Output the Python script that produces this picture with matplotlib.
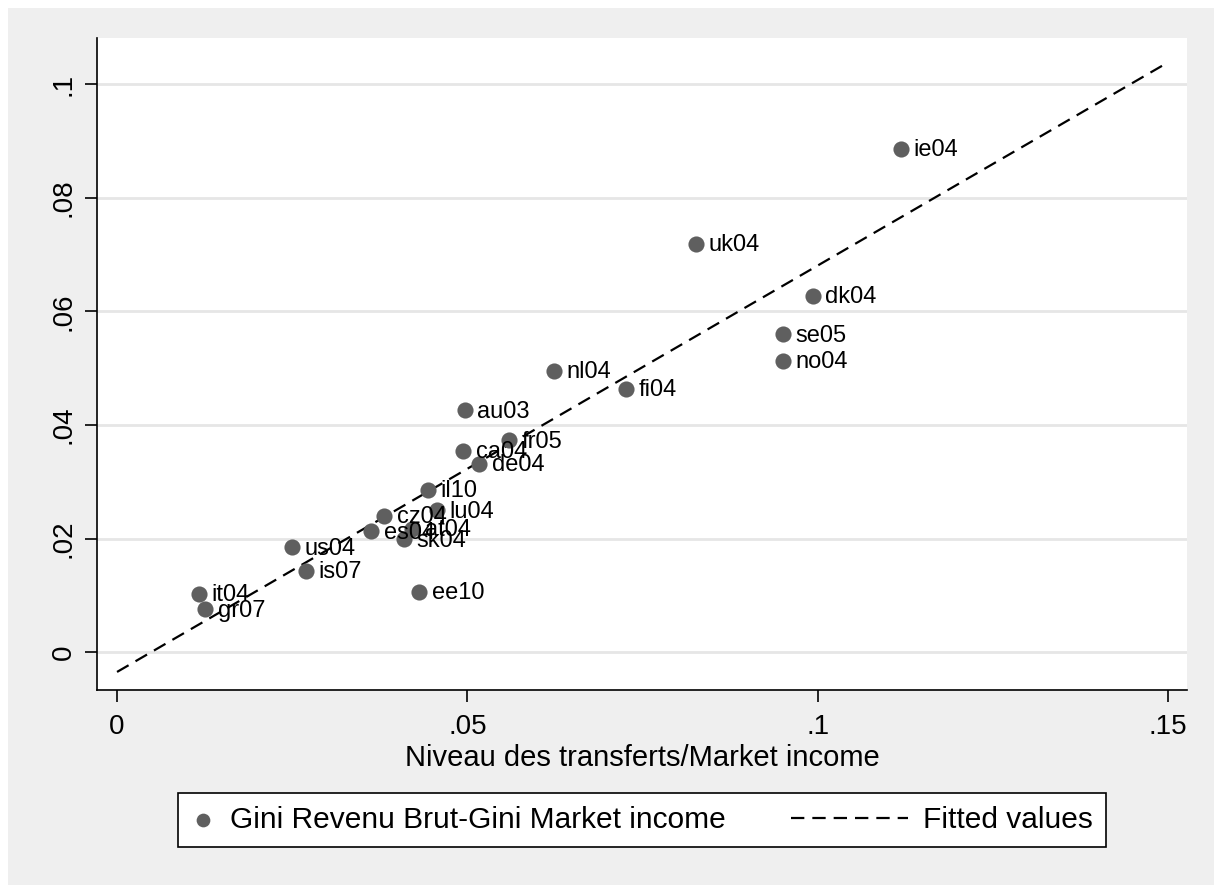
import numpy as np
import matplotlib.pyplot as plt
from matplotlib.legend_handler import HandlerLine2D

# Donnees
pays = ['ie04', 'uk04', 'dk04', 'se05', 'no04', 'nl04', 'fi04', 'au03',
        'fr05', 'ca04', 'de04', 'il10', 'lu04', 'cz04', 'es04', 'at04',
        'sk04', 'us04', 'is07', 'ee10', 'it04', 'gr07']
transferts = [0.1119, 0.0826, 0.0993, 0.0950, 0.0950, 0.0624, 0.0727, 0.0496,
              0.0560, 0.0494, 0.0517, 0.0444, 0.0457, 0.0381, 0.0363, 0.0421,
              0.0409, 0.0250, 0.0269, 0.0431, 0.0117, 0.0126]
gini_diff = [0.0886, 0.0719, 0.0627, 0.0560, 0.0513, 0.0496, 0.0464, 0.0426,
             0.0373, 0.0355, 0.0332, 0.0286, 0.0250, 0.0240, 0.0213, 0.0218,
             0.0199, 0.0185, 0.0144, 0.0107, 0.0103, 0.0076]
ticks_x = [0, 0.05, 0.1, 0.15]
ticks_x_lab = ['0', '.05', '.1', '.15']
ticks_y = [0, 0.02, 0.04, 0.06, 0.08, 0.1]
ticks_y_lab = ['0', '.02', '.04', '.06', '.08', '.1']

x = np.array(transferts)
y = np.array(gini_diff)
pente, ordonnee = np.polyfit(x, y, 1)  # Droite des moindres carres
x_fit = np.array([0.0, 0.15])
y_fit = ordonnee + pente * x_fit


class TiretsLongs(HandlerLine2D):
    """ Cle de legende : ligne prolongee vers la gauche. """

    def get_xdata(self, legend, xdescent, ydescent, width, height, fontsize):
        xdata, xdata_marker = super().get_xdata(legend, xdescent, ydescent,
                                                width, height, fontsize)
        return [xdata[0] - 3.1 * fontsize, xdata[1]], xdata_marker


police = 'Liberation Sans'
gris_fond = '#efefef'
fig = plt.figure(figsize=(12.14, 8.85), dpi=100, facecolor='white')
# Cadre gris de la zone graphique
fig.patches.append(plt.Rectangle((8 / 1214, 0), 1, 1 - 8 / 885, transform=fig.transFigure,
                                 facecolor=gris_fond, edgecolor='none', zorder=-10))
ax = fig.add_axes([97 / 1214, 1 - 690 / 885, 1090 / 1214, 652 / 885])
ax.set_facecolor('white')

for yv in ticks_y:
    ax.axhline(yv, color='#e6e6e6', linewidth=2, zorder=0)

nuage = ax.scatter(x, y, s=135, color='#5f5f5f', zorder=3, linewidths=0,
                   label='Gini Revenu Brut-Gini Market income')
droite, = ax.plot(x_fit, y_fit, linestyle=(0, (6, 3.6)), color='black', linewidth=1.6,
                  zorder=2, label='Fitted values')
for p, xv, yv in zip(pays, x, y):
    ax.annotate(p, (xv, yv), xytext=(9, -1), textcoords='offset points',
                ha='left', va='center', fontsize=17, family=police, zorder=4)

ax.set_xlim(-0.00286, 0.1527)
ax.set_ylim(-0.0066, 0.1081)
ax.set_xticks(ticks_x)
ax.set_xticklabels(ticks_x_lab)
ax.set_yticks(ticks_y)
ax.set_yticklabels(ticks_y_lab, rotation=90, va='center')
ax.tick_params(axis='both', direction='out', length=8.5, width=1.2, labelsize=20)
ax.tick_params(axis='x', pad=9)
ax.tick_params(axis='y', pad=6)
for lab in ax.get_xticklabels() + ax.get_yticklabels():
    lab.set_family(police)
ax.spines['top'].set_visible(False)
ax.spines['right'].set_visible(False)
ax.spines['left'].set_linewidth(1.2)
ax.spines['bottom'].set_linewidth(1.2)
ax.set_xlabel('Niveau des transferts/Market income', fontsize=21,
              family=police, labelpad=3)

leg = fig.legend([nuage, droite], [nuage.get_label(), droite.get_label()],
                 loc='center', bbox_to_anchor=(642 / 1214, 1 - 820 / 885), ncol=2,
                 frameon=True, fancybox=False, edgecolor='black',
                 facecolor='white', framealpha=1, columnspacing=5.3,
                 handlelength=0.8, handletextpad=0.5, borderpad=0.45,
                 borderaxespad=0, scatterpoints=1, markerscale=0.85,
                 handler_map={droite: TiretsLongs()},
                 prop={'family': police, 'size': 21.5})
leg.get_frame().set_linewidth(1.2)

fig.savefig('out.png', dpi=100, facecolor=fig.get_facecolor())
